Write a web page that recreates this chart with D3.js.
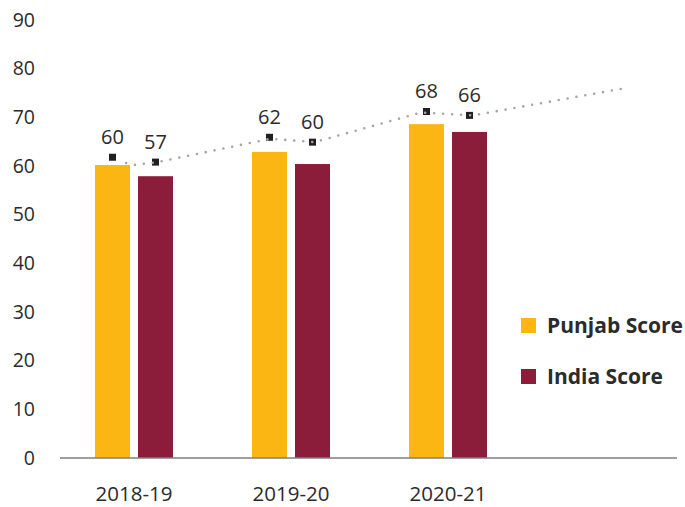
<!DOCTYPE html>
<html>
<head>
<meta charset="utf-8">
<script src="https://cdn.jsdelivr.net/npm/d3@7"></script>
<style>
  body { margin: 0; background: #fff; }
  svg text { font-family: "Open Sans", "Noto Sans", sans-serif; fill: #2b2b2b; }
</style>
</head>
<body>
<svg id="chart" width="685" height="507"></svg>
<script>
// chart data
const categories = ["2018-19", "2019-20", "2020-21"];
const seriesNames = ["Punjab Score", "India Score"];
const punjabScore = [60.2, 62.9, 68.6];
const indiaScore = [57.9, 60.4, 67.0];
const punjabMarker = [61.8, 65.9, 71.2];
const indiaMarker = [60.8, 64.9, 70.4];
const punjabLabels = ["60", "62", "68"];
const indiaLabels = ["57", "60", "66"];
// dotted trend: position in periods (0 = 2018-19) and value
const trendPeriod = [-0.05, 0.0, 0.15, 0.87, 1.15, 1.83, 2.16, 3.13];
const trendValue = [60.6, 60.2, 60.8, 65.6, 64.9, 71.0, 70.4, 76.0];
const yTicks = [0, 10, 20, 30, 40, 50, 60, 70, 80, 90];

const colors = { "Punjab Score": "#FBB614", "India Score": "#8B1C3A" };

const svg = d3.select("#chart");

const y = d3.scaleLinear().domain([0, 90]).range([458, 20]);

// 4 slots, the last one is empty space
const x0 = d3.scaleBand()
    .domain(categories.concat([""]))
    .range([55.5, 683.5]);

const x1 = d3.scaleBand()
    .domain(seriesNames)
    .range([39.5, 117.5])
    .paddingInner(0.186);

const xPeriod = d3.scaleLinear()
    .domain([0, 1])
    .range([x0(categories[0]) + x0.bandwidth() / 2, x0(categories[1]) + x0.bandwidth() / 2]);

// y axis labels
svg.append("g")
    .selectAll("text")
    .data(yTicks)
    .enter().append("text")
    .attr("x", 35)
    .attr("y", d => y(d))
    .attr("dy", "0.35em")
    .attr("text-anchor", "end")
    .style("font-size", "19.5px")
    .text(d => d);

const rows = categories.map((c, i) => ({
    cat: c,
    values: [
        { key: "Punjab Score", v: punjabScore[i], m: punjabMarker[i], label: punjabLabels[i] },
        { key: "India Score", v: indiaScore[i], m: indiaMarker[i], label: indiaLabels[i] }
    ]
}));

const groups = svg.append("g")
    .selectAll("g")
    .data(rows)
    .enter().append("g")
    .attr("transform", d => `translate(${x0(d.cat)},0)`);

groups.selectAll("rect")
    .data(d => d.values)
    .enter().append("rect")
    .attr("x", d => x1(d.key))
    .attr("width", x1.bandwidth())
    .attr("y", d => y(d.v))
    .attr("height", d => y(0) - y(d.v))
    .attr("fill", d => colors[d.key]);

// baseline
svg.append("line")
    .attr("x1", 60).attr("x2", 677)
    .attr("y1", y(0)).attr("y2", y(0))
    .attr("stroke", "#7f7f7f")
    .attr("stroke-width", 1.5);

// x labels
svg.append("g")
    .selectAll("text")
    .data(categories)
    .enter().append("text")
    .attr("x", d => x0(d) + x0.bandwidth() / 2)
    .attr("y", 501)
    .attr("text-anchor", "middle")
    .style("font-size", "20.5px")
    .text(d => d);

// dotted trend line
const trendLine = d3.line()
    .x(d => xPeriod(d[0]))
    .y(d => y(d[1]));

svg.append("path")
    .datum(trendPeriod.map((p, i) => [p, trendValue[i]]))
    .attr("d", trendLine)
    .attr("fill", "none")
    .attr("stroke", "#a6a6a6")
    .attr("stroke-width", 2.6)
    .attr("stroke-linecap", "round")
    .attr("stroke-dasharray", "0 9");

// markers
groups.selectAll("rect.marker")
    .data(d => d.values)
    .enter().append("rect")
    .attr("class", "marker")
    .attr("x", d => x1(d.key) + x1.bandwidth() / 2 - 3.5)
    .attr("y", d => y(d.m) - 3.5)
    .attr("width", 7)
    .attr("height", 7)
    .attr("fill", "#231F20");

// labels
groups.selectAll("text.lbl")
    .data(d => d.values)
    .enter().append("text")
    .attr("class", "lbl")
    .attr("x", d => x1(d.key) + x1.bandwidth() / 2)
    .attr("y", d => y(d.m) - 13)
    .attr("text-anchor", "middle")
    .style("font-size", "20px")
    .text(d => d.label);

// legend
const legend = svg.append("g")
    .selectAll("g")
    .data(seriesNames)
    .enter().append("g")
    .attr("transform", (d, i) => `translate(521,${318 + i * 51})`);

legend.append("rect")
    .attr("width", 15)
    .attr("height", 15)
    .attr("fill", d => colors[d]);

legend.append("text")
    .attr("x", 26)
    .attr("y", 15)
    .style("font-size", "21px")
    .style("font-weight", "bold")
    .text(d => d);
</script>
</body>
</html>
